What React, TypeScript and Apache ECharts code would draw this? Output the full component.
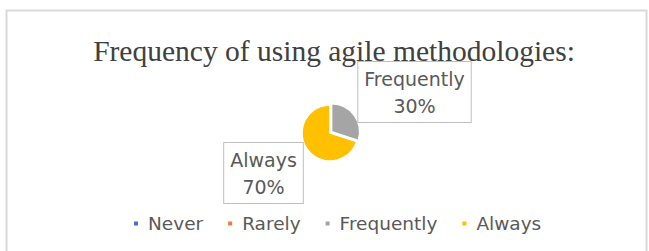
import React, { useEffect, useRef } from "react";
import * as echarts from "echarts";

const titleText = "Frequency of using agile methodologies:";
const categories = ["Never", "Rarely", "Frequently", "Always"];
const values = [0, 0, 30, 70];
const colors = ["#4472C4", "#ED7D31", "#A5A5A5", "#FFC000"];

export default function App() {
  const ref = useRef<HTMLDivElement>(null);
  useEffect(() => {
    if (!ref.current) return;
    const chart = echarts.init(ref.current, null, { renderer: "svg" });
    const total = values.reduce((a, b) => a + b, 0);
    const labelPos: Record<string, [number, number]> = {
      Frequently: [414.5, 92],
      Always: [263.5, 173],
    };
    const labelGraphics = categories
      .map((name, i) => ({ name, v: values[i] }))
      .filter((d) => d.v > 0 && labelPos[d.name])
      .map((d) => ({
        type: "text",
        x: labelPos[d.name][0],
        y: labelPos[d.name][1],
        z: 100,
        silent: true,
        style: {
          text: `${d.name}\n${Math.round((d.v / total) * 100)}%`,
          font: '19px "DejaVu Sans"',
          fill: "#595959",
          align: "center",
          verticalAlign: "middle",
          lineHeight: 27,
          backgroundColor: "#ffffff",
          borderColor: "#BFBFBF",
          borderWidth: 1,
          padding: [3, 6, 3, 6],
        },
      }));
    chart.setOption({
      animation: false,
      backgroundColor: "#ffffff",
      title: {
        text: titleText,
        left: 329,
        textAlign: "center",
        top: 31,
        textStyle: {
          fontFamily: "Liberation Serif",
          fontSize: 29.5,
          fontWeight: "normal",
          color: "#404040",
        },
      },
      graphic: [
        {
          type: "rect",
          shape: { x: 6.5, y: 10.5, width: 640, height: 260 },
          style: { fill: "none", stroke: "#D9D9D9", lineWidth: 2 },
          silent: true,
          z: -1,
        },
        ...labelGraphics,
      ],
      legend: {
        data: categories,
        top: 209,
        left: 127,
        icon: "rect",
        itemWidth: 6,
        itemHeight: 6,
        itemGap: 23,
        textStyle: {
          fontFamily: "DejaVu Sans",
          fontSize: 18.5,
          color: "#595959",
          padding: [0, 0, 0, 4],
        },
      },
      series: [
        {
          type: "pie",
          center: [330, 133],
          radius: [0, 28],
          startAngle: 90,
          clockwise: true,
          label: { show: false },
          labelLine: { show: false },
          itemStyle: { borderColor: "#ffffff", borderWidth: 1.5 },
          data: categories.map((name, i) => ({
            name,
            value: values[i],
            selected: name === "Frequently",
            itemStyle: { color: colors[i] },
          })),
          selectedMode: "single",
          selectedOffset: 2,
        },
      ],
    });
    return () => chart.dispose();
  }, []);
  return (
    <div
      ref={ref}
      style={{ position: "fixed", left: 0, top: 0, width: 649, height: 251 }}
    />
  );
}
